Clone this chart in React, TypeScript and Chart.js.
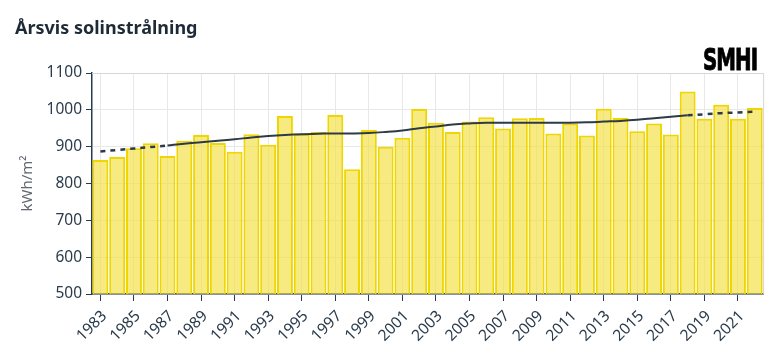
import React, { useEffect, useRef } from "react";
import { Chart, registerables } from "chart.js";

Chart.register(...registerables);

const years: string[] = [];
for (let y = 1983; y <= 2022; y++) years.push(String(y));

const radiation = [
  864, 872, 896, 909, 875, 916, 932, 910, 886, 934,
  905, 983, 934, 940, 986, 839, 945, 900, 924, 1002,
  965, 940, 968, 980, 949, 977, 978, 936, 963, 930,
  1003, 978, 942, 963, 933, 1050, 976, 1014, 976, 1005,
];

const trend = [
  887, 891, 895, 899, 903, 908, 912, 916, 920, 925,
  929, 932, 934, 935, 936, 936, 937, 940, 944, 950,
  955, 960, 963, 965, 965, 965, 965, 965, 965, 966,
  968, 970, 973, 977, 981, 985, 988, 991, 993, 995,
];

const solidStart = 4; // 1987
const solidEnd = 35; // 2018

const trendSolid = trend.map((v, i) => (i >= solidStart && i <= solidEnd ? v : null));
const trendDashed = trend.map((v, i) => (i <= solidStart || i >= solidEnd ? v : null));

const yTicks = [500, 600, 700, 800, 900, 1000, 1100];

const TEXT = "#2a3b4c";
const FONT = "'Noto Sans', 'Open Sans', sans-serif";

const borderPlugin = {
  id: "frameRight",
  afterDraw(chart: any) {
    const { ctx, chartArea } = chart;
    ctx.save();
    ctx.strokeStyle = "#d6d6d6";
    ctx.lineWidth = 1;
    ctx.beginPath();
    ctx.moveTo(chartArea.right + 0.5, chartArea.top);
    ctx.lineTo(chartArea.right + 0.5, chartArea.bottom);
    ctx.moveTo(chartArea.left, chartArea.top + 0.5);
    ctx.lineTo(chartArea.right, chartArea.top + 0.5);
    ctx.stroke();
    ctx.restore();
  },
};

export default function App() {
  const ref = useRef<HTMLCanvasElement | null>(null);

  useEffect(() => {
    document.body.style.margin = "0";
    if (!ref.current) return;
    const chart = new Chart(ref.current, {
      type: "bar",
      data: {
        labels: years,
        datasets: [
          {
            type: "line",
            data: trendSolid,
            borderColor: "#2e3b46",
            borderWidth: 2,
            pointRadius: 0,
            tension: 0.4,
            spanGaps: false,
            order: 0,
          } as any,
          {
            type: "line",
            data: trendDashed,
            borderColor: "#2e3b46",
            borderWidth: 2.5,
            borderDash: [5, 5],
            pointRadius: 0,
            tension: 0.4,
            spanGaps: false,
            order: 0,
          } as any,
          {
            type: "bar",
            data: radiation,
            backgroundColor: "rgba(242, 224, 70, 0.68)",
            borderColor: "#f0d600",
            borderWidth: 2,
            categoryPercentage: 1,
            barPercentage: 0.95,
            order: 1,
          },
        ],
      },
      options: {
        animation: false,
        responsive: false,
        maintainAspectRatio: false,
        layout: { padding: { top: 73, right: 9, left: 0, bottom: 0 } },
        plugins: {
          legend: { display: false },
          tooltip: { enabled: false },
        },
        scales: {
          x: {
            offset: true,
            grid: {
              offset: false,
              color: (ctx: any) => (ctx.index % 2 === 0 ? "#e8e8e8" : "rgba(0,0,0,0)"),
              tickColor: (ctx: any) => (ctx.index % 2 === 0 ? TEXT : "rgba(0,0,0,0)"),
              tickLength: 7,
            },
            border: { color: TEXT, width: 1.5 },
            ticks: {
              autoSkip: false,
              maxRotation: 45,
              minRotation: 45,
              color: TEXT,
              font: { family: FONT, size: 15.5 },
              padding: 6,
              labelOffset: 4,
              callback: (_v: any, i: number) => (i % 2 === 0 ? years[i] : ""),
            },
            afterFit: (s: any) => {
              s.height = 65;
            },
          },
          y: {
            min: 500,
            max: 1100,
            afterBuildTicks: (s: any) => {
              s.ticks = yTicks.map((v) => ({ value: v }));
            },
            grid: { color: "#e8e8e8", tickColor: TEXT, tickLength: 6 },
            border: { color: TEXT, width: 1.5 },
            ticks: {
              color: TEXT,
              font: { family: FONT, size: 15.5 },
              padding: 4,
              callback: (v: any) => String(v),
            },
            title: {
              display: true,
              text: "kWh/m²",
              color: "#5f6670",
              font: { family: FONT, size: 15 },
              padding: { top: 19, bottom: 0 },
            },
            afterFit: (s: any) => {
              s.width = 92;
            },
          },
        },
      },
      plugins: [borderPlugin],
    });
    return () => chart.destroy();
  }, []);

  return (
    <div style={{ position: "absolute", left: 0, top: 0, width: 774, height: 359 }}>
      <canvas ref={ref} width={774} height={359} style={{ width: 774, height: 359, display: "block" }} />
      <div
        style={{
          position: "absolute",
          left: 15,
          top: 15,
          fontFamily: FONT,
          fontWeight: 700,
          fontSize: 18,
          color: "#1e2b37",
          whiteSpace: "nowrap",
        }}
      >
        Årsvis solinstrålning
      </div>
      <div
        style={{
          position: "absolute",
          left: 703,
          top: 42,
          fontFamily: "'DejaVu Sans', sans-serif",
          fontWeight: 700,
          fontSize: 31,
          letterSpacing: -1.5,
          color: "#000",
          WebkitTextStroke: "1px #000",
          lineHeight: "34px",
          whiteSpace: "nowrap",
          transform: "scaleX(0.64)",
          transformOrigin: "left top",
        }}
      >
        SMHI
      </div>
    </div>
  );
}
